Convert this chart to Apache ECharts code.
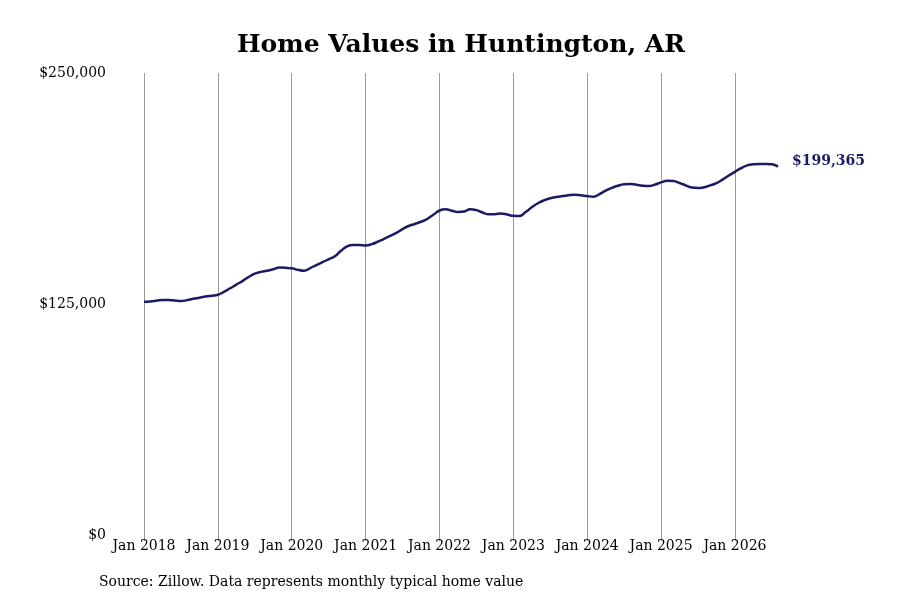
<!DOCTYPE html>
<html>
<head>
<meta charset="utf-8">
<script src="https://cdn.jsdelivr.net/npm/echarts@6/dist/echarts.min.js"></script>
<style>
  html, body { margin: 0; padding: 0; background: #fff; }
  #chart { width: 900px; height: 600px; }
</style>
</head>
<body>
<div id="chart"></div>
<script>
// 月度典型房价 Jan 2018 - Aug 2026
var months = ['Jan', 'Feb', 'Mar', 'Apr', 'May', 'Jun', 'Jul', 'Aug', 'Sep', 'Oct', 'Nov', 'Dec'];
var years = [2018, 2019, 2020, 2021, 2022, 2023, 2024, 2025, 2026];
var homeValues = [
    126200, 126400, 126800, 127200, 127100, 126900, 126600, 127100, 127800, 128400, 129000, 129500,
    130000, 131600, 133500, 135500, 137400, 139600, 141400, 142400, 143000, 143800, 144700, 144600,
    144300, 143500, 143000, 144400, 146100, 147600, 149200, 150800, 153800, 156200, 156900, 156900,
    156700, 157400, 158700, 160300, 161800, 163500, 165500, 167200, 168300, 169500, 171000, 173300,
    175600, 176300, 175500, 174800, 175000, 176300, 175800, 174500, 173500, 173600, 174000, 173400,
    172700, 172600, 174800, 177300, 179500, 181100, 182200, 182900, 183400, 183900, 184100, 183800,
    183400, 183100, 184500, 186300, 187800, 189000, 189800, 190000, 189500, 189000, 188800, 189600,
    190800, 191700, 191500, 190500, 189200, 188000, 187800, 188200, 189200, 190400, 192300, 194500,
    196500, 198500, 200000, 200600, 200800, 200800, 200600, 199365
];
var yTicks = [0, 125000, 250000];

var categories = [];
years.forEach(function (y) {
    months.forEach(function (m) {
        if (categories.length < homeValues.length) categories.push(m + ' ' + y);
    });
});

var fontFamily = 'DejaVu Serif';
var isJan = function (i) { return i % 12 === 0; };
var money = function (v) { return '$' + v.toLocaleString('en-US'); };

var chart = echarts.init(document.getElementById('chart'));
chart.setOption({
    animation: false,
    title: {
        text: 'Home Values in Huntington, AR',
        left: 456,
        top: 28,
        textAlign: 'center',
        textStyle: { fontFamily: fontFamily, fontSize: 25, fontWeight: 'bold', color: '#000' }
    },
    graphic: [{
        type: 'text',
        left: 99,
        top: 575,
        style: {
            text: 'Source: Zillow. Data represents monthly typical home value',
            font: '14px "DejaVu Serif"',
            fill: '#000'
        }
    }],
    grid: { left: 144, right: 122, top: 73, bottom: 65, containLabel: false },
    xAxis: {
        type: 'category',
        boundaryGap: false,
        data: categories,
        axisLine: { show: false },
        axisTick: { show: true, interval: isJan, length: 6, lineStyle: { color: '#999' } },
        splitLine: { show: true, interval: isJan, lineStyle: { color: '#999', width: 1 } },
        axisLabel: {
            interval: isJan,
            margin: 4,
            fontFamily: fontFamily,
            fontSize: 14,
            color: '#000'
        }
    },
    yAxis: {
        type: 'value',
        min: yTicks[0],
        max: yTicks[2],
        interval: yTicks[1],
        axisLine: { show: false },
        axisTick: { show: false },
        splitLine: { show: false },
        axisLabel: {
            margin: 38,
            fontFamily: fontFamily,
            fontSize: 14,
            color: '#000',
            verticalAlign: 'middle',
            formatter: money
        }
    },
    series: [{
        name: 'Home Value',
        type: 'line',
        data: homeValues,
        smooth: true,
        showSymbol: false,
        lineStyle: { color: '#1b1a62', width: 2.5 },
        endLabel: {
            show: true,
            distance: 14,
            offset: [0, -5],
            fontFamily: fontFamily,
            fontSize: 14,
            fontWeight: 'bold',
            color: '#1b1a62',
            formatter: function (p) { return money(p.value); }
        }
    }]
});
</script>
</body>
</html>
